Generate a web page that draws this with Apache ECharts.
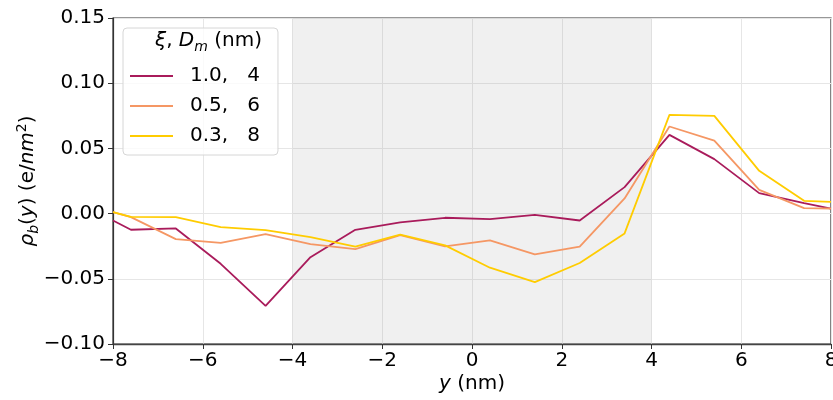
<!DOCTYPE html>
<html>
<head>
<meta charset="utf-8">
<script src="https://cdn.jsdelivr.net/npm/echarts@6/dist/echarts.min.js"></script>
<style>
  html, body { margin: 0; padding: 0; background: #fff; }
  #chart { width: 833px; height: 400px; }
</style>
</head>
<body>
<div id="chart"></div>
<script>
// Position along y (nm)
const yPos = [-8, -7.6, -6.6, -5.6, -4.6, -3.6, -2.6, -1.6, -0.6, 0.4, 1.4, 2.4, 3.4, 4.4, 5.4, 6.4, 7.4, 8];

// Bound charge density rho_b(y) in e/nm^2 for each (xi, D_m) pair
const rhoXi10 = [-0.0053, -0.0124, -0.0114, -0.0385, -0.0707, -0.0334, -0.0124, -0.0068, -0.0032, -0.0042, -0.0009, -0.0053, 0.0203, 0.0604, 0.0418, 0.0157, 0.0080, 0.0039];
const rhoXi05 = [0.0011, -0.0027, -0.0196, -0.0224, -0.0157, -0.0234, -0.0272, -0.0165, -0.0252, -0.0206, -0.0313, -0.0254, 0.0116, 0.0668, 0.0560, 0.0182, 0.0042, 0.0039];
const rhoXi03 = [0.0011, -0.0025, -0.0027, -0.0103, -0.0126, -0.0180, -0.0254, -0.0162, -0.0244, -0.0415, -0.0525, -0.0379, -0.0152, 0.0757, 0.0749, 0.0328, 0.0098, 0.0090];

const seriesNames = ['1.0,   4', '0.5,   6', '0.3,   8'];
const seriesColors = ['#a91b5b', '#f59764', '#ffcc00'];

// Shaded slab region
const slab = [-4, 4];

const minus = '\u2212';
const fmtY = v => (v < 0 ? minus : '') + Math.abs(v).toFixed(2);
const fmtX = v => (v < 0 ? minus : '') + Math.abs(v).toFixed(0);

const FONT = 'DejaVu Sans';
const FS = 20;   // tick labels
const FT = 20;   // titles and legend

const pair = arr => yPos.map((x, i) => [x, arr[i]]);

const chart = echarts.init(document.getElementById('chart'), null, { renderer: 'canvas' });

const lineSeries = [rhoXi10, rhoXi05, rhoXi03].map((arr, k) => ({
  name: seriesNames[k],
  type: 'line',
  data: pair(arr),
  symbol: 'none',
  color: seriesColors[k],
  lineStyle: { width: 1.8, color: seriesColors[k] },
  z: 3 + k,
  animation: false
}));

// Gray band behind the lines
lineSeries[0].markArea = {
  silent: true,
  itemStyle: { color: 'rgba(128,128,128,0.12)' },
  data: [[{ xAxis: slab[0] }, { xAxis: slab[1] }]]
};

const axisRich = {
  n: { fontFamily: FONT, fontSize: FT, color: '#000', lineHeight: 26 },
  i: { fontFamily: FONT, fontSize: FT, color: '#000', fontStyle: 'italic', lineHeight: 26 },
  s: { fontFamily: FONT, fontSize: 14, color: '#000', fontStyle: 'italic', lineHeight: 14, verticalAlign: 'bottom' },
  p: { fontFamily: FONT, fontSize: 14, color: '#000', lineHeight: 14, verticalAlign: 'top' }
};

const option = {
  backgroundColor: '#ffffff',
  animation: false,
  grid: {
    left: 113, right: 2, top: 18, bottom: 56,
    outerBoundsMode: 'none',
    containLabel: false,
    show: true, borderColor: '#333', borderWidth: 1.2, backgroundColor: 'transparent'
  },
  legend: {
    orient: 'vertical',
    left: 123, top: 28,
    padding: [37, 18, 8, 7],
    backgroundColor: 'rgba(255,255,255,0.8)',
    borderColor: '#d6d6d6',
    borderWidth: 1,
    borderRadius: 4,
    icon: 'rect',
    itemWidth: 43,
    itemHeight: 2,
    itemGap: 8,
    data: seriesNames,
    textStyle: {
      fontFamily: FONT, fontSize: FT, color: '#000', lineHeight: 22,
      padding: [0, 0, 0, 12]
    }
  },
  graphic: [{
    type: 'text',
    right: 833 - 262,
    top: 31,
    z: 100,
    style: {
      text: '{i|ξ}{n|, }{i|D}{s|m}{n| (nm)}',
      rich: axisRich
    }
  }],
  xAxis: {
    type: 'value',
    min: -8, max: 8, interval: 2,
    name: '{i|y}{n| (nm)}',
    nameLocation: 'middle',
    nameGap: 27,
    nameMoveOverlap: false,
    nameTextStyle: { rich: axisRich },
    axisLine: { show: true, onZero: false, lineStyle: { color: '#444', width: 1.4 } },
    axisTick: { show: true, inside: false, length: 5, lineStyle: { color: '#333' } },
    axisLabel: { fontFamily: FONT, fontSize: FS, color: '#000', margin: 7, formatter: fmtX },
    splitLine: { show: true, lineStyle: { color: '#e6e6e6', width: 1 } }
  },
  yAxis: {
    type: 'value',
    min: -0.10, max: 0.15, interval: 0.05,
    name: '{i|ρ}{s|b}{n|(}{i|y}{n|) (e/}{i|nm}{p|2}{n|)}',
    nameLocation: 'middle',
    nameRotate: 90,
    nameGap: 72,
    nameMoveOverlap: false,
    nameTextStyle: { rich: axisRich },
    axisLine: { show: true, onZero: false, lineStyle: { color: '#333', width: 1.2 } },
    axisTick: { show: true, inside: false, length: 5, lineStyle: { color: '#333' } },
    axisLabel: { fontFamily: FONT, fontSize: FS, color: '#000', margin: 8, formatter: fmtY },
    splitLine: { show: true, lineStyle: { color: '#e6e6e6', width: 1 } }
  },
  series: lineSeries
};

chart.setOption(option);
</script>
</body>
</html>
